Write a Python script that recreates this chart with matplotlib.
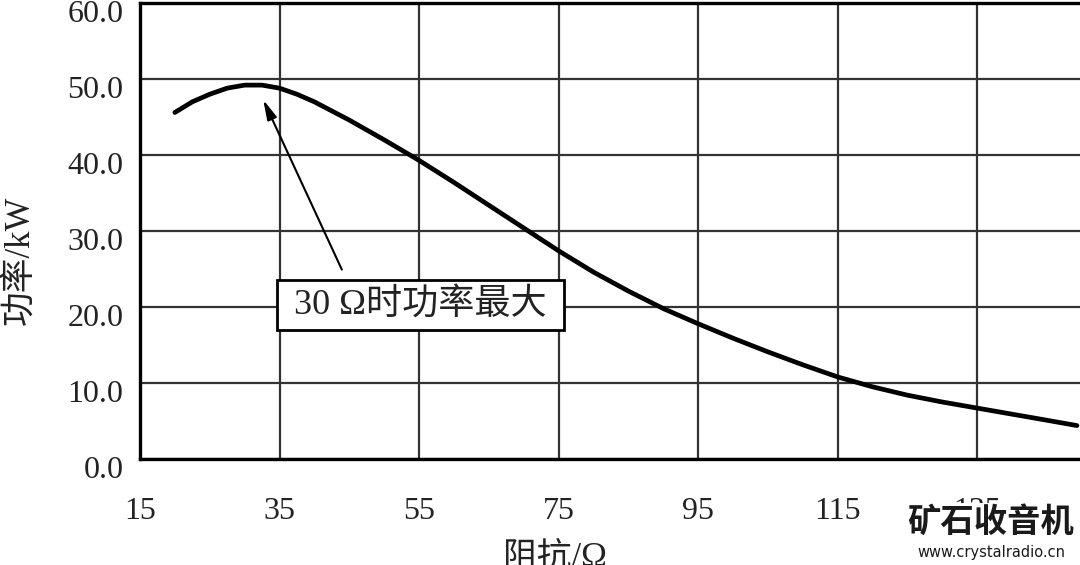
import matplotlib.pyplot as plt
import matplotlib.transforms as mtransforms

# impedance (ohm) vs power (kW)
impedance = [20, 22.5, 25, 27.5, 30, 32.5, 35, 37.5, 40, 45, 50, 55, 60, 65, 70, 75,
             80, 85, 90, 95, 100, 105, 110, 115, 120, 125, 130, 135, 140, 145, 149.3]
power = [45.6, 47.0, 48.0, 48.8, 49.2, 49.2, 48.8, 48.0, 47.0, 44.6, 42.0, 39.3, 36.4,
         33.4, 30.4, 27.4, 24.6, 22.1, 19.8, 17.8, 15.9, 14.1, 12.4, 10.8, 9.5, 8.4,
         7.5, 6.7, 5.9, 5.1, 4.4]

x_ticks = [15, 35, 55, 75, 95, 115, 135]
y_ticks = [0, 10, 20, 30, 40, 50, 60]
y_labels = ['%.1f' % v for v in y_ticks]

peak_x, peak_y = 32.5, 47.6
note_x, note_y = 55.2, 20.3
note_text = ' 30 Ω时功率最大 '

fonts = ['Liberation Serif', 'Noto Sans CJK SC']
plt.rcParams['font.family'] = fonts

fig = plt.figure(figsize=(10.8, 5.65), dpi=100)
ax = fig.add_axes([0.1296, 0.1876, 0.885, 0.807])

ax.plot(impedance, power, color='black', linewidth=3.4, solid_capstyle='round', zorder=3)

ax.set_xlim(15, 152)
ax.set_ylim(0, 60)
ax.set_xticks(x_ticks)
ax.set_yticks(y_ticks)
ax.set_yticklabels(y_labels)
ax.grid(True, color='#333333', linewidth=1.6)
ax.set_axisbelow(True)
for s in ax.spines.values():
    s.set_linewidth(2.4)
    s.set_color('black')

ax.tick_params(axis='both', length=0, labelsize=23, colors='#222222')
ax.tick_params(axis='x', pad=27)
ax.tick_params(axis='y', pad=12)
# y labels sit slightly below their grid lines in the original
shift = mtransforms.ScaledTranslation(0, -8 / 100, fig.dpi_scale_trans)
for lab in ax.get_yticklabels():
    lab.set_transform(lab.get_transform() + shift)

fig.text(0.018, 0.54, '功率/kW', rotation=90, ha='center', va='center',
         fontsize=25, color='#222222', family=fonts)
fig.text(0.514, 0.012, '阻抗/Ω', ha='center', va='center',
         fontsize=25, color='#222222', family=fonts)

ax.annotate('', xy=(peak_x, peak_y), xytext=(44.1, 24.6),
            arrowprops=dict(arrowstyle='-|>,head_length=1.2,head_width=0.3',
                            color='black', linewidth=1.5), zorder=4)
ax.text(note_x, note_y, note_text, ha='center', va='center', fontsize=26,
        color='#222222', family=fonts, zorder=5,
        bbox=dict(boxstyle='square,pad=0.22', facecolor='white',
                  edgecolor='black', linewidth=2))

# site watermark
fig.text(0.9175, 0.075, '矿石收音机', ha='center', va='center', fontsize=24,
         fontweight='bold', color='#1a1a1a', family=['Noto Sans CJK SC'],
         bbox=dict(facecolor='white', edgecolor='none', pad=2))
fig.text(0.9175, 0.022, 'www.crystalradio.cn', ha='center', va='center', fontsize=10.5,
         color='#1a1a1a', family=['DejaVu Sans'])

fig.savefig('out.png', dpi=100)
